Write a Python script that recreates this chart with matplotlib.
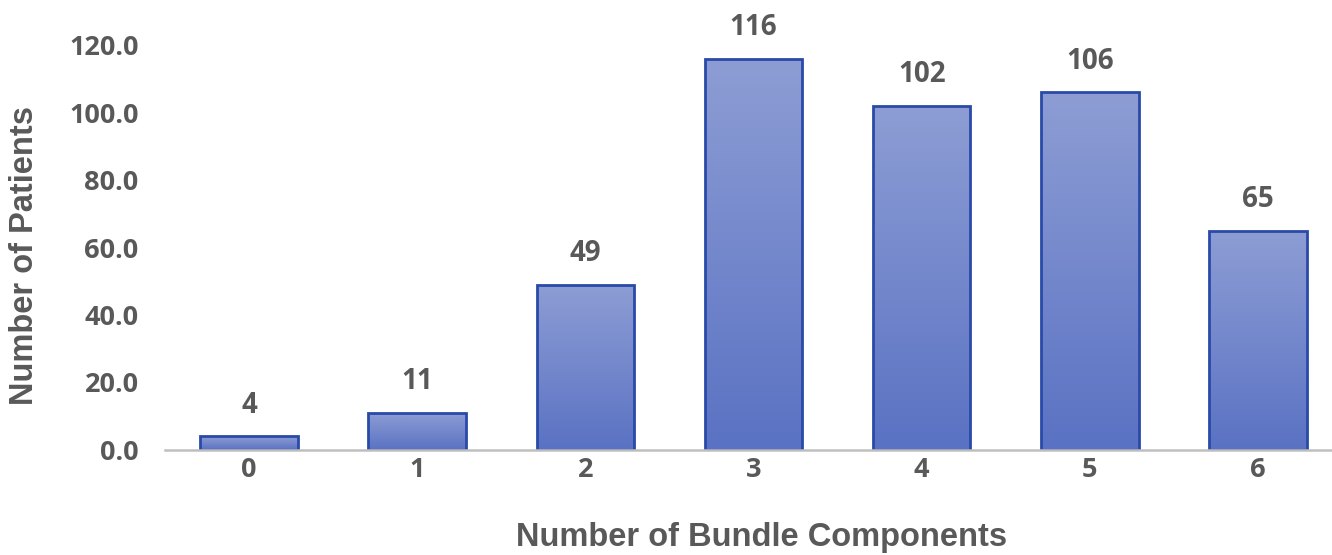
import matplotlib.pyplot as plt
import numpy as np
from matplotlib.colors import LinearSegmentedColormap

# bundle components vs. patient counts
components = ['0', '1', '2', '3', '4', '5', '6']
patients = [4, 11, 49, 116, 102, 106, 65]
y_ticks = [0, 20, 40, 60, 80, 100, 120]

grey = '#595959'
edge = '#2a4aa8'
num_font = 'Open Sans'
# light at the top, darker at the bottom
bar_cmap = LinearSegmentedColormap.from_list('bar', ['#5a72c3', '#8d9dd4'])

fig = plt.figure(figsize=(13.32, 5.55), dpi=100)
ax = fig.add_axes([0.1239, 0.1892, 0.8761, 0.7297])

x = np.arange(len(components))
bars = ax.bar(x, patients, width=0.58, facecolor='none', edgecolor=edge,
              linewidth=2, zorder=3)

# gradient fill clipped to each bar
grad = np.linspace(0, 1, 256).reshape(-1, 1)
for b in bars:
    x0, y0 = b.get_x(), b.get_y()
    w, h = b.get_width(), b.get_height()
    im = ax.imshow(grad, cmap=bar_cmap, aspect='auto', origin='lower',
                   extent=[x0, x0 + w, y0, y0 + h], zorder=2)
    im.set_clip_path(b)

for xi, v in zip(x, patients):
    ax.annotate(str(v), (xi, v), xytext=(0, 12), textcoords='offset points',
                ha='center', va='bottom', fontsize=20, fontweight='bold',
                family=num_font, color=grey, clip_on=False)

ax.set_xlim(-0.5, 6.44)
ax.set_ylim(0, 120)
ax.set_xticks(x)
ax.set_xticklabels(components)
ax.set_yticks(y_ticks)
ax.set_yticklabels([f'{t:.1f}' for t in y_ticks])

for lab in ax.get_xticklabels() + ax.get_yticklabels():
    lab.set_family(num_font)
    lab.set_fontweight('bold')
    lab.set_fontsize(19.5)
    lab.set_color(grey)

ax.tick_params(axis='both', length=0)
ax.tick_params(axis='y', pad=19)
ax.tick_params(axis='x', pad=5)

for s in ['top', 'right', 'left']:
    ax.spines[s].set_visible(False)
ax.spines['bottom'].set_color('#bfbfbf')
ax.spines['bottom'].set_linewidth(1.8)
ax.spines['bottom'].set_zorder(4)

ax.set_xlabel('Number of Bundle Components', fontsize=23.5, fontweight='bold',
              family='Liberation Sans', color=grey, va='center')
ax.set_ylabel('Number of Patients', fontsize=23.5, fontweight='bold',
              family='Liberation Sans', color=grey, va='center', ha='center')
ax.xaxis.set_label_coords(0.5116, -0.215)
ax.yaxis.set_label_coords(-0.12, 0.481)

plt.savefig('out.png', dpi=100)
